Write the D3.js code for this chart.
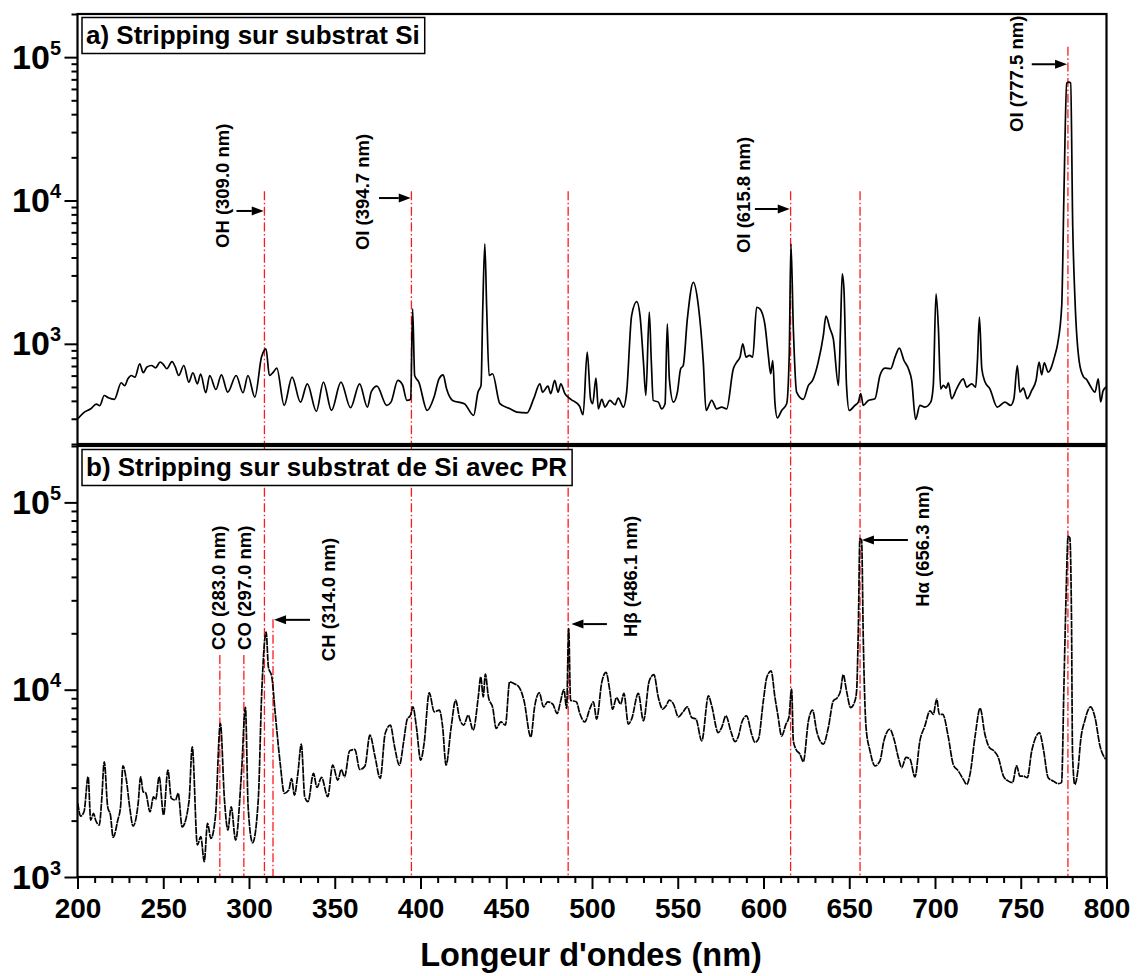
<!DOCTYPE html>
<html><head><meta charset="utf-8">
<script src="https://cdn.jsdelivr.net/npm/d3@7"></script>
<style>
body{margin:0;background:#fff;}
svg text{font-family:"Liberation Sans",Arial,sans-serif;font-weight:bold;fill:#000;}
</style></head><body>
<svg id="chart" width="1140" height="976"></svg>
<script>
// ---------- DATA ----------
const xDomain = [200, 800];
const xMajorTicks = [200,250,300,350,400,450,500,550,600,650,700,750,800];
const yDomainA = [200, 200000];
const yDomainB = [1000, 200000];
const yMajorTicksA = [1e3, 1e4, 1e5];
const yMajorTicksB = [1e3, 1e4, 1e5];
const panelTitleA = "a) Stripping sur substrat Si";
const panelTitleB = "b) Stripping sur substrat de Si avec PR";
const xTitle = "Longeur d'ondes (nm)";

// spectrum a) [wavelength nm, intensity]
const spectrumA = [
[200.2,300],[203.5,330],[207.7,352],[211.0,380],[213.0,370],[215.6,436],[218.0,420],[221.5,410],[225.5,535],[227.5,510],[229.4,570],[231.4,601],[233.5,585],[236.3,726],[238.3,628],[240.5,690],[243.2,706],[245.5,680],[248.2,745],[250.0,720],[252.1,670],[255.1,750],[257.0,690],[259.0,601],[262.0,706],[264.9,541],[267.3,628],[269.9,526],[271.8,615],[274.8,456],[277.1,601],[280.7,480],[283.9,608],[287.6,460],[292.5,601],[296.5,456],[299.4,601],[303.4,425],[307.3,808],[309.9,923],[311.9,601],[314.2,635],[316.2,677],[320.5,372],[325.1,586],[330.0,392],[334.0,526],[339.3,338],[343.4,541],[348.1,343],[353.6,541],[359.2,358],[364.5,526],[369.0,362],[371.4,465],[374.6,507],[380.3,372],[382.8,392],[386.8,555],[389.5,518],[392.1,403],[394.3,410],[395.4,1754],[396.6,601],[399.0,541],[403.9,343],[407.9,425],[410.8,570],[413.2,608],[415.2,485],[418.7,403],[425.6,382],[431.0,317],[433.5,460],[435.3,513],[436.3,1754],[437.5,4980],[438.6,1754],[440.0,601],[442.0,618],[446.3,382],[452.2,352],[456.2,334],[462.1,330],[466.0,414],[469.6,526],[471.2,460],[474.3,507],[475.9,449],[478.3,555],[480.2,460],[481.8,526],[484.2,449],[487.7,410],[492.7,368],[494.8,320],[497.2,875],[499.2,410],
[500.4,382],[502.3,577],[503.7,352],[505.7,410],[507.6,362],[510.4,403],[513.4,376],[515.3,418],[518.3,362],[520.2,460],[523.1,1575],[526.1,1972],[528.0,1575],[530.0,745],[531.4,436],[533.4,1662],[534.6,745],[535.7,403],[538.7,392],[540.6,352],[542.6,382],[543.9,1378],[545.1,570],[547.5,392],[549.8,460],[551.7,670],[553.2,706],[555.6,1494],[559.1,2687],[562.0,1851],[564.9,745],[566.5,343],[569.8,403],[572.7,352],[575.6,362],[578.5,352],[582.4,670],[584.4,745],[586.3,808],[587.9,1000],[589.8,808],[591.8,830],[593.7,808],[596.0,1800],[597.9,1754],[600.9,1342],[602.8,830],[604.2,618],[605.4,765],[606.7,382],[608.1,304],[610.6,343],[613.5,382],[615.0,830],[616.0,4980],[617.4,1272],[619.3,460],[623.2,410],[626.2,513],[628.6,555],[631.9,745],[634.9,1143],[636.4,1559],[638.8,1272],[640.7,1083],[643.7,513],[644.9,1272],[645.9,3075],[646.9,2418],[648.4,513],[650.0,343],[653.3,372],[655.3,392],[656.7,449],[658.2,372],[661.1,403],[665.0,414],[667.9,601],[670.8,677],[674.1,670],[676.7,808],[679.2,933],[681.9,765],[684.5,670],[686.4,555],[688.7,297],[691.2,372],[694.1,362],[697.5,392],[699.0,513],[700.6,2229],[702.0,1272],[703.3,485],[704.9,513],[706.5,490],[707.8,535],[709.7,414],[712.6,485],[716.5,570],[718.5,499],[721.4,526],[723.7,499],[724.7,745],[725.9,1535],[727.3,670],[729.2,541],[732.0,485],[736.3,362],[740.8,392],[744.1,372],[746.0,414],[748.0,706],[749.5,460],[751.5,490],[753.8,414],[756.4,473],[758.9,555],[760.7,745],[762.2,608],[763.7,737],[766.0,635],[769.9,830],[771.5,1000],[773.9,1850],[775.2,11400],[776.8,66000],[778.0,67000],[779.1,66000],[780.3,6670],[781.6,2060],[784.1,750],[786.5,590],[788.6,560],[790.4,512],[793.3,460],[795.2,570],[796.6,393],[798.0,470],[799.8,499]
];

// spectrum b) [wavelength nm, intensity]
const spectrumB = [
[200.2,2473],[201.8,2115],[203.8,2229],[206.2,3427],[207.7,2014],[209.3,2186],[210.7,1996],[212.7,1893],[214.1,2576],[215.6,4125],[217.6,2371],[219.2,2143],[220.8,1629],[223.5,2014],[225.1,2371],[226.5,3927],[228.5,3289],[230.4,2371],[232.4,1870],[235.4,2489],[236.8,3427],[238.3,2851],[239.7,2818],[242.3,2229],[244.3,2682],[245.6,2594],[247.6,3427],[250.2,2143],[252.7,3723],[254.7,2628],[257.1,2576],[258.7,2798],[261.0,1853],[265.0,2522],[266.9,4955],[269.9,1482],[271.9,1641],[273.9,1207],[275.8,1931],[277.8,1606],[280.4,2098],[283.3,6610],[285.7,2576],[287.7,1781],[289.6,2371],[292.2,1574],[295.6,3571],[297.9,8037],[299.5,2371],[302.1,1524],[305.4,2576],[307.4,9550],[310.0,20300],[311.3,13240],[313.3,11700],[315.3,7460],[318.2,4036],[320.6,2798],[323.2,2911],[324.8,3357],[326.5,2737],[328.5,3571],[330.5,5117],[332.5,2682],[334.4,2522],[337.6,3571],[339.6,3006],[342.3,3403],[345.9,2682],[348.8,3955],[351.8,3289],[353.8,3749],[355.7,3427],[358.7,4721],[361.7,4797],[364.6,3749],[367.6,3908],[370.5,5717],[373.5,4385],[376.5,3357],[379.4,5835],[382.4,6470],[384.9,4955],[387.7,3955],[390.3,5384],[392.2,6935],[394.2,7310],[395.6,8090],[397.6,6340],[400.1,4207],[402.1,5164],[405.1,9620],[408.0,7620],[411.0,7780],[412.9,6340],[414.9,3955],[417.9,6340],[420.5,8790],[422.8,7015],[425.2,6470],[427.8,7310],[430.7,6080],[433.7,9160],[435.1,11700],[436.6,9160],[437.8,12100],[439.6,9160],[442.2,7940],[444.1,6210],[446.9,6730],[449.5,6470],[452.0,11020],[454.4,10790],[457.4,10350],[460.3,8790],[464.3,5600],[466.6,8170],[469.2,9620],[471.8,8090],[474.1,8610],[477.1,8370],[479.7,7460],[481.6,8610],[483.6,10020],[485.2,7940],[486.4,21200],[487.5,8790],[490.9,8610],[492.9,7460],[495.8,6730],[498.8,7940],[500.8,8610],[502.7,6970],
[505.7,10940],[508.2,12360],[510.4,9860],[512.0,7870],[514.3,9070],[516.7,8380],[518.6,9550],[521.2,6550],[523.1,6970],[527.0,9550],[530.0,6820],[533.4,11160],[536.1,12030],[538.7,9070],[541.2,7870],[543.2,8200],[545.1,8790],[547.5,8380],[550.4,7160],[552.8,7550],[555.6,8090],[558.1,7100],[560.6,6970],[564.0,5330],[567.9,9270],[569.8,8200],[573.6,5900],[575.6,6280],[578.1,7250],[580.9,6020],[583.4,5280],[585.4,5660],[587.3,6680],[590.1,7250],[593.1,5780],[595.0,5230],[597.0,5440],[599.9,8710],[601.9,11610],[604.4,12610],[606.7,9070],[608.3,7390],[610.6,5660],[613.1,6550],[614.8,7100],[616.4,10070],[617.4,5330],[618.9,4810],[621.3,4520],[623.2,4130],[626.2,6820],[628.6,7780],[631.0,6020],[634.9,5120],[637.8,6280],[640.7,8710],[643.1,9070],[644.9,9860],[646.5,12030],[648.4,9860],[650.8,8030],[653.3,8710],[654.3,9860],[655.3,21500],[656.2,64000],[657.2,62700],[658.2,18280],[659.8,6280],[662.1,4710],[665.0,3920],[667.9,4170],[670.2,5330],[673.7,6150],[676.1,5440],[678.6,4350],[680.6,3840],[683.1,4350],[685.4,4260],[688.3,3420],[691.2,5330],[694.1,6410],[697.1,7710],[699.0,7390],[701.0,8910],[702.5,7390],[704.5,7390],[707.8,5560],[710.6,4000],[713.6,3680],[716.5,3320],[718.5,3120],[720.4,3530],[723.4,5660],[726.3,7960],[729.1,5780],[731.7,4910],[734.4,4710],[736.9,4350],[739.9,3460],[742.8,3250],[745.2,3190],[747.6,3920],[749.5,3460],[751.5,3460],[753.8,3390],[756.4,4710],[758.3,5440],[760.9,5900],[763.2,4810],[766.0,3390],[769.0,3250],[771.9,3150],[773.8,3190],[775.2,10720],[776.4,31200],[777.6,65800],[778.6,64700],[779.6,23400],[780.2,4520],[781.5,3120],[783.5,3840],[784.9,5330],[787.4,6870],[790.7,8090],[793.3,7100],[796.2,5010],[799.5,4250]
];

// reference lines: wavelength, panel where the line starts, intensity where it starts
const refLines = [
 {wl:309.0, panel:"a", from:11600},
 {wl:394.7, panel:"a", from:11600},
 {wl:486.1, panel:"a", from:11600},
 {wl:615.8, panel:"a", from:11600},
 {wl:656.3, panel:"a", from:11600},
 {wl:777.5, panel:"a", from:118000},
 {wl:283.0, panel:"b", from:15300},
 {wl:297.0, panel:"b", from:15300},
 {wl:314.0, panel:"b", from:23800}
];
// arrows: panel, tail wavelength, tip wavelength, intensity
const arrows = [
 {panel:"a", from:292.7, to:308.6, v:8450},
 {panel:"a", from:375.8, to:394.3, v:10400},
 {panel:"a", from:595.0, to:615.3, v:8720},
 {panel:"a", from:756.4, to:777.0, v:89200},
 {panel:"b", from:335.6, to:314.6, v:23600},
 {panel:"b", from:508.7, to:488.0, v:22400},
 {panel:"b", from:684.2, to:657.4, v:62900}
];
// vertical labels: panel, baseline wavelength, intensity at text start
const lineLabels = [
 {panel:"a", text:"OH (309.0 nm)", wl:288.5, v:4660},
 {panel:"a", text:"OI (394.7 nm)", wl:370.0, v:4510},
 {panel:"a", text:"OI (615.8 nm)", wl:592.1, v:4300},
 {panel:"a", text:"OI (777.5 nm)", wl:751.5, v:30100},
 {panel:"b", text:"CO (283.0 nm)", wl:286.0, v:16300},
 {panel:"b", text:"CO (297.0 nm)", wl:301.2, v:16300},
 {panel:"b", text:"CH (314.0 nm)", wl:350.1, v:14200},
 {panel:"b", text:"H\u03B2 (486.1 nm)", wl:526.2, v:19100},
 {panel:"b", text:"H\u03B1 (656.3 nm)", wl:696.5, v:27700}
];

// ---------- LAYOUT ----------
const L = 77.5, R = 1106.5;
const A = {top:14, bottom:444};
const B = {top:446, bottom:877};
const svg = d3.select("#chart");
const x = d3.scaleLinear().domain(xDomain).range([L, R]);
const yA = d3.scaleLog().domain(yDomainA).range([A.bottom, A.top]);
const yB = d3.scaleLog().domain(yDomainB).range([B.bottom, B.top]);
const yOf = p => p === "a" ? yA : yB;

svg.append("rect").attr("width",1140).attr("height",976).attr("fill","#fff");

// reference lines (drawn first, under spectra)
const red = "#ff1a1a";
svg.append("g").selectAll("line").data(refLines).join("line")
  .attr("x1", d => x(d.wl)).attr("x2", d => x(d.wl))
  .attr("y1", d => yOf(d.panel)(d.from)).attr("y2", yB(yDomainB[0]))
  .attr("stroke", red).attr("stroke-width", 1.3)
  .attr("stroke-dasharray", "9,2.5,1.6,2.5");

// spectra
const lineA = d3.line().curve(d3.curveMonotoneX).x(d => x(d[0])).y(d => yA(d[1]));
const lineB = d3.line().curve(d3.curveMonotoneX).x(d => x(d[0])).y(d => yB(d[1]));
svg.append("path").datum(spectrumA).attr("d", lineA)
  .attr("fill","none").attr("stroke","#000").attr("stroke-width",1.7).attr("stroke-linejoin","round");
svg.append("path").datum(spectrumB).attr("d", lineB)
  .attr("fill","none").attr("stroke","#000").attr("stroke-width",1.7)
  .attr("stroke-dasharray","7,0.8").attr("stroke-linejoin","round");

// panel frames
[A, B].forEach(P => {
  svg.append("rect").attr("x", L).attr("y", P.top).attr("width", R - L).attr("height", P.bottom - P.top)
    .attr("fill","none").attr("stroke","#000").attr("stroke-width",2.2);
});

// y axes
function yAxis(scale, majors, P) {
  const g = svg.append("g").attr("transform", `translate(${L},0)`);
  const minors = scale.ticks().filter(v => !majors.includes(v));
  g.call(d3.axisLeft(scale).tickValues(minors).tickSize(6).tickFormat(""));
  const gm = svg.append("g").attr("transform", `translate(${L},0)`);
  gm.call(d3.axisLeft(scale).tickValues(majors).tickSize(13).tickFormat(""));
  [g, gm].forEach(s => {
    s.select(".domain").remove();
    s.selectAll(".tick line").attr("stroke","#000").attr("stroke-width",2);
  });
  const lab = svg.append("g").selectAll("text").data(majors).join("text")
    .attr("x", 61).attr("y", d => scale(d) + 11.5).attr("text-anchor","end");
  lab.append("tspan").attr("font-size", 34).text("10");
  lab.append("tspan").attr("font-size", 20).attr("dy", -14).text(d => Math.round(Math.log10(d)));
}
yAxis(yA, yMajorTicksA, A);
yAxis(yB, yMajorTicksB, B);

// x axis
const xMinor = d3.range(xDomain[0], xDomain[1] + 1, 10).filter(v => !xMajorTicks.includes(v));
const gx1 = svg.append("g").attr("transform", `translate(0,${B.bottom})`)
  .call(d3.axisBottom(x).tickValues(xMinor).tickSize(6).tickFormat(""));
const gx2 = svg.append("g").attr("transform", `translate(0,${B.bottom})`)
  .call(d3.axisBottom(x).tickValues(xMajorTicks).tickSize(12).tickPadding(9).tickFormat(d3.format("d")));
[gx1, gx2].forEach(s => {
  s.select(".domain").remove();
  s.selectAll(".tick line").attr("stroke","#000").attr("stroke-width",2);
});
gx2.selectAll(".tick text").attr("font-size", 28).attr("font-family", null).attr("fill","#000");

svg.append("text").attr("x", (L + R) / 2 - 1).attr("y", 966).attr("text-anchor","middle")
  .attr("font-size", 32.5).text(xTitle);

// arrows
const arrowG = svg.append("g");
arrows.forEach(d => {
  const yy = yOf(d.panel)(d.v);
  const x0 = x(d.from), x1 = x(d.to);
  const dir = Math.sign(x1 - x0);
  const hl = 12, hw = 4.5;
  arrowG.append("line").attr("x1", x0).attr("x2", x1 - dir * hl).attr("y1", yy).attr("y2", yy)
    .attr("stroke","#000").attr("stroke-width",2);
  arrowG.append("path")
    .attr("d", `M${x1},${yy} L${x1 - dir * hl},${yy - hw} L${x1 - dir * hl},${yy + hw} Z`)
    .attr("fill","#000");
});

// vertical labels
svg.append("g").selectAll("text").data(lineLabels).join("text")
  .attr("transform", d => `translate(${x(d.wl)},${yOf(d.panel)(d.v)}) rotate(-90)`)
  .attr("font-size", 18.5).text(d => d.text);

// panel titles
function panelTitle(txt, P) {
  const g = svg.append("g");
  const t = g.append("text").attr("x", 86).attr("y", P.top + 29.5).attr("font-size", 26).text(txt);
  const w = t.node().getComputedTextLength();
  g.insert("rect", "text").attr("x", 82).attr("y", P.top + 3.5).attr("width", w + 9).attr("height", 36)
    .attr("fill","#fff").attr("stroke","#000").attr("stroke-width",1.5);
}
panelTitle(panelTitleA, A);
panelTitle(panelTitleB, B);
</script>
</body></html>
